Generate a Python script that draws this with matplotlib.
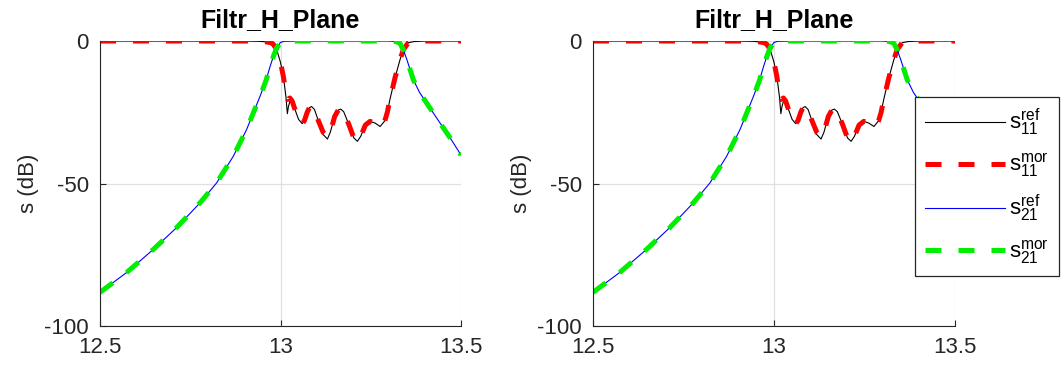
import numpy as np
import matplotlib.pyplot as plt

plt.rcParams['font.family'] = ['Liberation Sans', 'DejaVu Sans']
plt.rcParams['mathtext.fontset'] = 'custom'
plt.rcParams['mathtext.rm'] = 'Liberation Sans'
plt.rcParams['mathtext.it'] = 'Liberation Sans'

# frequency (GHz) / dB values
f_s11_ref = [12.50, 12.70, 12.90, 12.94, 12.96, 12.970, 12.979, 12.989, 13.000, 13.008,
             13.015, 13.019, 13.022, 13.026, 13.030, 13.040, 13.050, 13.060, 13.066,
             13.074, 13.080, 13.086, 13.094, 13.105, 13.118, 13.130, 13.138, 13.150,
             13.160, 13.167, 13.175, 13.190, 13.203, 13.213, 13.222, 13.235, 13.248,
             13.262, 13.276, 13.289, 13.296, 13.303, 13.317, 13.331, 13.340, 13.354,
             13.370, 13.40, 13.50]
s11_ref = [0, 0, 0, -0.1, -0.3, -0.5, -1.0, -2.8, -7.5, -12.5,
           -19.5, -25.5, -23.0, -21.2, -21.5, -24.0, -27.5, -29.0, -28.0,
           -25.0, -23.4, -23.0, -24.0, -28.0, -32.8, -34.4, -32.0, -26.5,
           -24.2, -23.9, -24.8, -29.5, -34.0, -35.2, -33.5, -29.5, -28.2,
           -28.8, -30.0, -28.0, -25.0, -20.6, -13.0, -6.6, -3.1, -0.6,
           -0.2, 0, 0]

f_s11_mor = [12.50, 12.70, 12.90, 12.94, 12.96, 12.970, 12.979, 12.989, 13.000, 13.008,
             13.015, 13.020, 13.026, 13.032, 13.040, 13.050, 13.060, 13.066,
             13.074, 13.080, 13.086, 13.094, 13.105, 13.118, 13.130, 13.138, 13.150,
             13.160, 13.167, 13.175, 13.190, 13.203, 13.213, 13.222, 13.235, 13.248,
             13.262, 13.276, 13.289, 13.296, 13.303, 13.317, 13.331, 13.340, 13.354,
             13.370, 13.40, 13.50]
s11_mor = [0, 0, 0, -0.1, -0.3, -0.5, -1.0, -2.8, -7.5, -12.5,
           -18.5, -20.5, -20.0, -21.0, -24.0, -27.5, -29.0, -28.0,
           -25.0, -23.4, -23.0, -24.0, -28.0, -32.0, -33.5, -32.0, -26.5,
           -24.2, -23.9, -24.8, -29.5, -34.0, -35.2, -33.5, -29.5, -28.2,
           -28.8, -30.0, -28.0, -25.0, -20.6, -13.0, -6.6, -3.1, -0.6,
           -0.2, 0, 0]

f_s21 = [12.50, 12.574, 12.648, 12.712, 12.777, 12.823, 12.869, 12.906, 12.943,
         12.960, 12.971, 12.980, 12.989, 13.000, 13.010, 13.050, 13.300, 13.320,
         13.331, 13.340, 13.350, 13.368, 13.385, 13.405, 13.442, 13.470, 13.50]
s21_ref = [-88.2, -81.2, -73.1, -65.5, -56.8, -49.8, -40.5, -31.1, -19.5,
           -13.8, -9.0, -5.5, -2.5, -0.5, -0.1, 0, 0, -0.2,
           -0.8, -3.0, -6.5, -13.6, -18.0, -21.8, -28.8, -34.0, -40.0]
s21_mor = [-88.2, -81.2, -73.1, -65.5, -56.8, -49.8, -40.5, -31.1, -19.5,
           -13.8, -9.0, -5.5, -2.5, -0.5, -0.1, 0, 0, -0.2,
           -0.8, -3.0, -6.5, -13.6, -18.0, -21.8, -28.8, -34.0, -40.0]

labels = [r'$\mathrm{s}_{11}^{\mathrm{ref}}$', r'$\mathrm{s}_{11}^{\mathrm{mor}}$',
          r'$\mathrm{s}_{21}^{\mathrm{ref}}$', r'$\mathrm{s}_{21}^{\mathrm{mor}}$']

fig = plt.figure(figsize=(10.62, 3.69), dpi=100)
W, H = 1062, 369
ax1 = fig.add_axes([100/W, 1-326/H, 361/W, 285/H])
ax2 = fig.add_axes([593/W, 1-326/H, 362/W, 285/H])

for ax in (ax1, ax2):
    ax.plot(f_s11_ref, s11_ref, color='black', linewidth=0.8, label=labels[0])
    ax.plot(f_s11_mor, s11_mor, color='red', linewidth=3.6, dashes=(3.2, 3.4), label=labels[1])
    ax.plot(f_s21, s21_ref, color='blue', linewidth=0.8, label=labels[2])
    ax.plot(f_s21, s21_mor, color='#00ee00', linewidth=3.6, dashes=(3.2, 3.4), label=labels[3])
    ax.set_xlim(12.5, 13.5)
    ax.set_ylim(-100, 0)
    ax.set_xticks([12.5, 13, 13.5])
    ax.set_xticklabels(['12.5', '13', '13.5'])
    ax.set_yticks([-100, -50, 0])
    ax.set_yticklabels(['-100', '-50', '0'])
    ax.grid(True, color='#e0e0e0', linewidth=0.9)
    ax.set_axisbelow(True)
    for s in ('top', 'right'):
        ax.spines[s].set_visible(False)
    ax.spines['left'].set_color('#262626')
    ax.spines['bottom'].set_color('#262626')
    ax.tick_params(direction='in', length=4, labelsize=16, colors='#262626',
                   labelcolor='#262626')
    ax.tick_params(axis='x', pad=8)
    ax.tick_params(axis='y', pad=8)
    ax.set_ylabel('s (dB)', fontsize=16, color='#262626', labelpad=4)
    ax.set_title('Filtr_H_Plane', fontsize=18, fontweight='bold', pad=10)

leg = ax2.legend(loc='upper left', bbox_to_anchor=(915/W, 1-97/H),
                 bbox_transform=fig.transFigure, borderaxespad=0,
                 fontsize=16, handlelength=3.6, labelspacing=0.62,
                 handletextpad=0.2, borderpad=0.45, fancybox=False,
                 framealpha=1, edgecolor='#262626')
leg.get_frame().set_linewidth(0.9)

fig.savefig('out.png', dpi=100)
